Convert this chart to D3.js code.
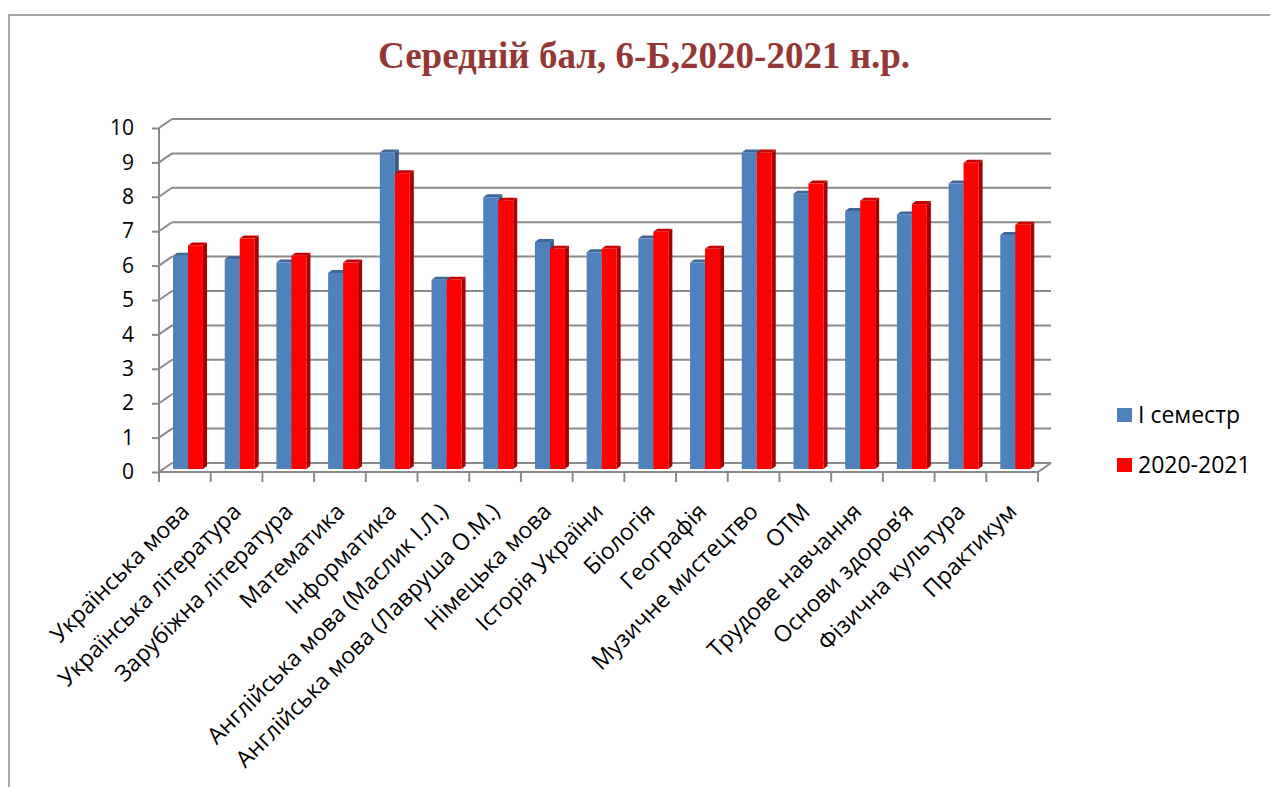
<!DOCTYPE html>
<html>
<head>
<meta charset="utf-8">
<script src="https://cdn.jsdelivr.net/npm/d3@7"></script>
<style>
  body { margin: 0; background: #fff; }
  text { font-family: "Open Sans", "Noto Sans", sans-serif; fill: #000; }
</style>
</head>
<body>
<div id="vis-container"></div>
<script>

    ////////////////////////////////////
    ////////////// Data ////////////////
    ////////////////////////////////////

    const subjects = [
        "Українська мова", "Українська література", "Зарубіжна література",
        "Математика", "Інформатика", "Англійська мова (Маслик І.Л.)",
        "Англійська мова (Лавруша О.М.)", "Німецька мова", "Історія України",
        "Біологія", "Географія", "Музичне мистецтво", "ОТМ",
        "Трудове навчання", "Основи здоров’я", "Фізична культура", "Практикум"
    ]

    const semester1 = [6.2, 6.1, 6.0, 5.7, 9.2, 5.5, 7.9, 6.6, 6.3, 6.7, 6.0, 9.2, 8.0, 7.5, 7.4, 8.3, 6.8]
    const year2021 = [6.5, 6.7, 6.2, 6.0, 8.6, 5.5, 7.8, 6.4, 6.4, 6.9, 6.4, 9.2, 8.3, 7.8, 7.7, 8.9, 7.1]

    const seriesNames = ["І семестр", "2020-2021"]
    const yTicks = [0, 1, 2, 3, 4, 5, 6, 7, 8, 9, 10]

    const titleText = "Середній бал, 6-Б,2020-2021 н.р."

    ////////////////////////////////////
    ///////////// SVG Setup ////////////
    ////////////////////////////////////

    const svgWidth = 1270
    const svgHeight = 787

    const svg = d3.select('#vis-container')
        .append('svg')
        .attr("width", svgWidth)
        .attr("height", svgHeight)

    // chart frame
    svg.append('rect')
        .attr('x', 9).attr('y', 15)
        .attr('width', 1300).attr('height', 900)
        .attr('fill', 'none')
        .attr('stroke', '#8c8c8c')
        .attr('stroke-width', 1.5)

    svg.append('text')
        .attr('x', 644).attr('y', 68)
        .attr('text-anchor', 'middle')
        .style('font-family', '"Liberation Serif", "Times New Roman", serif')
        .style('font-weight', 'bold')
        .style('font-size', '37px')
        .style('fill', '#953735')
        .text(titleText)

    ////////////////////////////////////
    /////////////// Scales /////////////
    ////////////////////////////////////

    const plotLeft = 159, plotRight = 1038
    const plotBottom = 472, plotTop = 128

    // depth of the 3D back wall
    const depth = { dx: 13, dy: -9 }
    // depth of each bar, and how far bars stand behind the front edge
    const barDepth = { dx: 4, dy: -3 }
    const barLift = 3

    const xScale = d3.scaleBand()
        .domain(subjects)
        .range([plotLeft, plotRight])

    const yScale = d3.scaleLinear()
        .domain([0, 10])
        .range([plotBottom, plotTop])

    const colors = {
        front: ['#4f81bd', '#ff0000'],
        side: ['#375d8a', '#a80000'],
        top: ['#3e6699', '#c80000']
    }

    ////////////////////////////////////
    ////////////// Walls ///////////////
    ////////////////////////////////////

    const gridColor = '#8a8a8a'
    const grid = svg.append('g')
        .attr('stroke', gridColor)
        .attr('stroke-width', 2)
        .attr('fill', 'none')

    // back wall gridlines
    grid.selectAll('.back')
        .data(yTicks)
        .join('line')
        .attr('class', 'back')
        .attr('x1', plotLeft + depth.dx)
        .attr('x2', plotRight + depth.dx)
        .attr('y1', d => yScale(d) + depth.dy)
        .attr('y2', d => yScale(d) + depth.dy)

    // side wall diagonals
    grid.selectAll('.side')
        .data(yTicks)
        .join('line')
        .attr('class', 'side')
        .attr('x1', plotLeft)
        .attr('x2', plotLeft + depth.dx)
        .attr('y1', d => yScale(d))
        .attr('y2', d => yScale(d) + depth.dy)

    // floor right edge
    grid.append('line')
        .attr('x1', plotRight).attr('y1', yScale(0))
        .attr('x2', plotRight + depth.dx).attr('y2', yScale(0) + depth.dy)

    ////////////////////////////////////
    ////////////// Bars ////////////////
    ////////////////////////////////////

    const barW = 15
    const barOffset = 14

    const barData = []
    subjects.forEach((s, i) => {
        [semester1[i], year2021[i]].forEach((v, k) => {
            barData.push({ subject: s, value: v, k: k })
        })
    })

    const bars = svg.append('g')
        .selectAll('g')
        .data(barData)
        .join('g')

    const bx = d => xScale(d.subject) + barOffset + d.k * barW
    const by = d => yScale(d.value) - barLift
    const base = yScale(0) - barLift

    // side face
    bars.append('polygon')
        .attr('fill', d => colors.side[d.k])
        .attr('points', d => {
            const x = bx(d) + barW, y1 = by(d)
            return [[x, y1], [x + barDepth.dx, y1 + barDepth.dy],
                [x + barDepth.dx, base + barDepth.dy], [x, base]].join(' ')
        })

    // top face
    bars.append('polygon')
        .attr('fill', d => colors.top[d.k])
        .attr('points', d => {
            const x = bx(d), y = by(d)
            return [[x, y], [x + barDepth.dx, y + barDepth.dy],
                [x + barW + barDepth.dx, y + barDepth.dy], [x + barW, y]].join(' ')
        })

    // front face
    bars.append('rect')
        .attr('x', bx)
        .attr('y', by)
        .attr('width', barW)
        .attr('height', d => base - by(d))
        .attr('fill', d => colors.front[d.k])

    ////////////////////////////////////
    ////////////// Axis ////////////////
    ////////////////////////////////////

    const yAxis = d3.axisLeft(yScale)
        .tickValues(yTicks)
        .tickSize(7)
        .tickPadding(18)

    const yG = svg.append('g')
        .attr('transform', `translate(${plotLeft},0)`)
        .call(yAxis)
    yG.selectAll('line, path').attr('stroke', gridColor).attr('stroke-width', 2)
    yG.select('path').attr('d', `M0,${yScale(0)}V${yScale(10)}`)
    yG.selectAll('text')
        .style('font-size', '21px')
        .style('font-family', '"Open Sans", sans-serif')
        .attr('fill', '#000')

    // front x axis line with ticks at category boundaries
    const xG = svg.append('g')
        .attr('stroke', gridColor)
        .attr('stroke-width', 2)
    xG.append('line')
        .attr('x1', plotLeft).attr('x2', plotRight)
        .attr('y1', yScale(0)).attr('y2', yScale(0))
    xG.selectAll('.xtick')
        .data(subjects.concat(['__end']))
        .join('line')
        .attr('class', 'xtick')
        .attr('x1', d => d === '__end' ? plotRight : xScale(d))
        .attr('x2', d => d === '__end' ? plotRight : xScale(d))
        .attr('y1', yScale(0))
        .attr('y2', yScale(0) + 10)

    // category labels
    svg.append('g')
        .selectAll('text')
        .data(subjects)
        .join('text')
        .attr('text-anchor', 'end')
        .attr('transform', d => `translate(${xScale(d) + xScale.bandwidth() / 2 + 6},${yScale(0) + 41}) rotate(-45)`)
        .style('font-size', '23px')
        .text(d => d)

    ////////////////////////////////////
    ///////////// Legend ///////////////
    ////////////////////////////////////

    const legend = svg.append('g')
        .selectAll('g')
        .data(seriesNames)
        .join('g')
        .attr('transform', (d, i) => `translate(1117,${408 + i * 50})`)

    legend.append('rect')
        .attr('width', 15)
        .attr('height', 14)
        .attr('fill', (d, i) => colors.front[i])

    legend.append('text')
        .attr('x', 21)
        .attr('y', 15)
        .style('font-size', '23px')
        .text(d => d)

</script>
</body>
</html>
